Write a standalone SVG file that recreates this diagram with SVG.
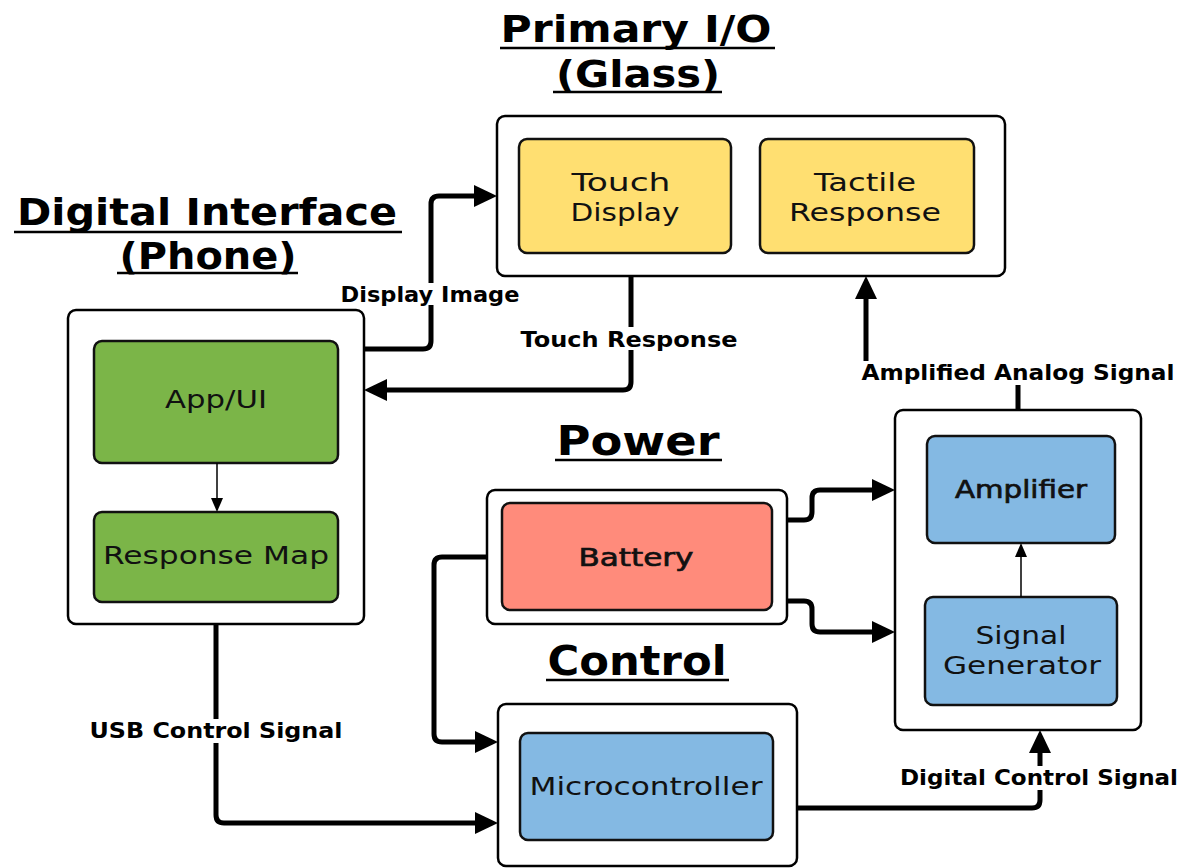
<svg xmlns="http://www.w3.org/2000/svg" width="1182" height="868" viewBox="0 0 1182 868">
<style>
.cont{fill:#fff;stroke:#000;stroke-width:2.5}
.box{stroke:#111;stroke-width:2.5}
.yel{fill:#FFDF71}.grn{fill:#7BB548}.red{fill:#FF8B7B}.blu{fill:#84B9E3}
.title{font-family:"DejaVu Sans","Liberation Sans",sans-serif;font-weight:bold;font-size:38px;fill:#000;text-anchor:middle}
.big{font-size:41px}
.ul{stroke:#000;stroke-width:2.5}
.nt{font-family:"DejaVu Sans","Liberation Sans",sans-serif;font-size:25px;fill:#111;text-anchor:middle}
.nb{stroke:#111;stroke-width:0.7}
.el{font-family:"DejaVu Sans","Liberation Sans",sans-serif;font-weight:bold;font-size:22px;fill:#000;text-anchor:middle}
.lbg{fill:#fff}
.thick{fill:none;stroke:#000;stroke-width:5}
.thin{fill:none;stroke:#000;stroke-width:1.5}
</style>
<defs>
<marker id="ah" markerUnits="userSpaceOnUse" markerWidth="23" markerHeight="22" viewBox="0 0 23 22" refX="0" refY="11" orient="auto"><path d="M0,0 L23,11 L0,22 z" fill="#000"/></marker>
<marker id="ahs" markerUnits="userSpaceOnUse" markerWidth="14" markerHeight="12" viewBox="0 0 14 12" refX="0" refY="6" orient="auto"><path d="M0,0 L14,6 L0,12 z" fill="#000"/></marker>
</defs>

<g id="titles">
<text class="title" x="636" y="42" textLength="271" lengthAdjust="spacingAndGlyphs">Primary I/O</text>
<line class="ul" x1="500" y1="48" x2="775" y2="48"/>
<text class="title" x="638" y="87" textLength="164" lengthAdjust="spacingAndGlyphs">(Glass)</text>
<line class="ul" x1="553" y1="92" x2="722" y2="92"/>
<text class="title" x="207" y="225" textLength="380" lengthAdjust="spacingAndGlyphs">Digital Interface</text>
<line class="ul" x1="14" y1="232" x2="402" y2="232"/>
<text class="title" x="208" y="269" textLength="177" lengthAdjust="spacingAndGlyphs">(Phone)</text>
<line class="ul" x1="117" y1="273" x2="298" y2="273"/>
<text class="title big" x="638" y="455" textLength="163" lengthAdjust="spacingAndGlyphs">Power</text>
<line class="ul" x1="555" y1="460" x2="722" y2="460"/>
<text class="title big" x="637" y="675" textLength="179" lengthAdjust="spacingAndGlyphs">Control</text>
<line class="ul" x1="546" y1="680" x2="729" y2="680"/>
</g>

<g id="primary-io">
<rect class="cont" x="497" y="116" width="508" height="160" rx="8"/>
</g>
<g id="touch-display">
<rect class="box yel" x="519" y="139" width="212" height="114" rx="8"/>
<text class="nt" x="621" y="191" textLength="99" lengthAdjust="spacingAndGlyphs">Touch</text>
<text class="nt" x="625" y="221" textLength="109" lengthAdjust="spacingAndGlyphs">Display</text>
</g>
<g id="tactile-response">
<rect class="box yel" x="760" y="139" width="214" height="114" rx="8"/>
<text class="nt" x="865" y="191" textLength="102" lengthAdjust="spacingAndGlyphs">Tactile</text>
<text class="nt" x="865" y="221" textLength="152" lengthAdjust="spacingAndGlyphs">Response</text>
</g>

<g id="digital-interface">
<rect class="cont" x="68" y="310" width="296" height="314" rx="8"/>
</g>
<g id="app-ui">
<rect class="box grn" x="94" y="341" width="244" height="122" rx="8"/>
<text class="nt" x="216" y="408" textLength="102" lengthAdjust="spacingAndGlyphs">App/UI</text>
</g>
<g id="response-map">
<rect class="box grn" x="94" y="512" width="244" height="90" rx="8"/>
<text class="nt" x="216" y="564" textLength="226" lengthAdjust="spacingAndGlyphs">Response Map</text>
</g>

<g id="power">
<rect class="cont" x="487" y="490" width="300" height="134" rx="8"/>
</g>
<g id="battery">
<rect class="box red" x="502" y="503" width="270" height="107" rx="8"/>
<text class="nt nb" x="636" y="566" textLength="115" lengthAdjust="spacingAndGlyphs">Battery</text>
</g>

<g id="control">
<rect class="cont" x="498" y="704" width="299" height="162" rx="8"/>
</g>
<g id="microcontroller">
<rect class="box blu" x="520" y="733" width="253" height="107" rx="8"/>
<text class="nt" x="646" y="795" textLength="233" lengthAdjust="spacingAndGlyphs">Microcontroller</text>
</g>

<g id="actuation">
<rect class="cont" x="895" y="410" width="246" height="320" rx="8"/>
</g>
<g id="amplifier">
<rect class="box blu" x="927" y="436" width="188" height="107" rx="8"/>
<text class="nt nb" x="1021" y="498" textLength="132" lengthAdjust="spacingAndGlyphs">Amplifier</text>
</g>
<g id="signal-generator">
<rect class="box blu" x="925" y="597" width="192" height="108" rx="8"/>
<text class="nt" x="1021" y="644" textLength="91" lengthAdjust="spacingAndGlyphs">Signal</text>
<text class="nt" x="1022" y="674" textLength="158" lengthAdjust="spacingAndGlyphs">Generator</text>
</g>

<g id="connectors">
<path class="thick" marker-end="url(#ah)" d="M364,349 H423 Q431,349 431,341 V204 Q431,196 439,196 H474"/>
<path class="thick" marker-end="url(#ah)" d="M631,276 V382 Q631,390 623,390 H387"/>
<path class="thick" marker-end="url(#ah)" d="M1018,410 V380 Q1018,372 1010,372 H874 Q866,372 866,364 V299"/>
<path class="thick" marker-end="url(#ah)" d="M787,520 H804 Q812,520 812,512 V498 Q812,490 820,490 H872"/>
<path class="thick" marker-end="url(#ah)" d="M787,601 H804 Q812,601 812,609 V624 Q812,632 820,632 H872"/>
<path class="thick" marker-end="url(#ah)" d="M487,557 H442 Q434,557 434,565 V734 Q434,742 442,742 H475"/>
<path class="thick" marker-end="url(#ah)" d="M216,624 V815 Q216,823 224,823 H475"/>
<path class="thick" marker-end="url(#ah)" d="M797,808 H1032 Q1040,808 1040,800 V753"/>
<path class="thin" marker-end="url(#ahs)" d="M217,463 V498"/>
<path class="thin" marker-end="url(#ahs)" d="M1021,597 V557"/>
<rect class="lbg" x="339" y="283" width="183" height="22"/>
<text class="el" x="430" y="302" textLength="179" lengthAdjust="spacingAndGlyphs">Display Image</text>
<rect class="lbg" x="519" y="327" width="221" height="23"/>
<text class="el" x="629" y="347" textLength="217" lengthAdjust="spacingAndGlyphs">Touch Response</text>
<rect class="lbg" x="860" y="361" width="317" height="24"/>
<text class="el" x="1018" y="380" textLength="313" lengthAdjust="spacingAndGlyphs">Amplified Analog Signal</text>
<rect class="lbg" x="88" y="719" width="257" height="24"/>
<text class="el" x="216" y="738" textLength="253" lengthAdjust="spacingAndGlyphs">USB Control Signal</text>
<rect class="lbg" x="898" y="766" width="282" height="24"/>
<text class="el" x="1039" y="785" textLength="278" lengthAdjust="spacingAndGlyphs">Digital Control Signal</text>
</g>
</svg>
